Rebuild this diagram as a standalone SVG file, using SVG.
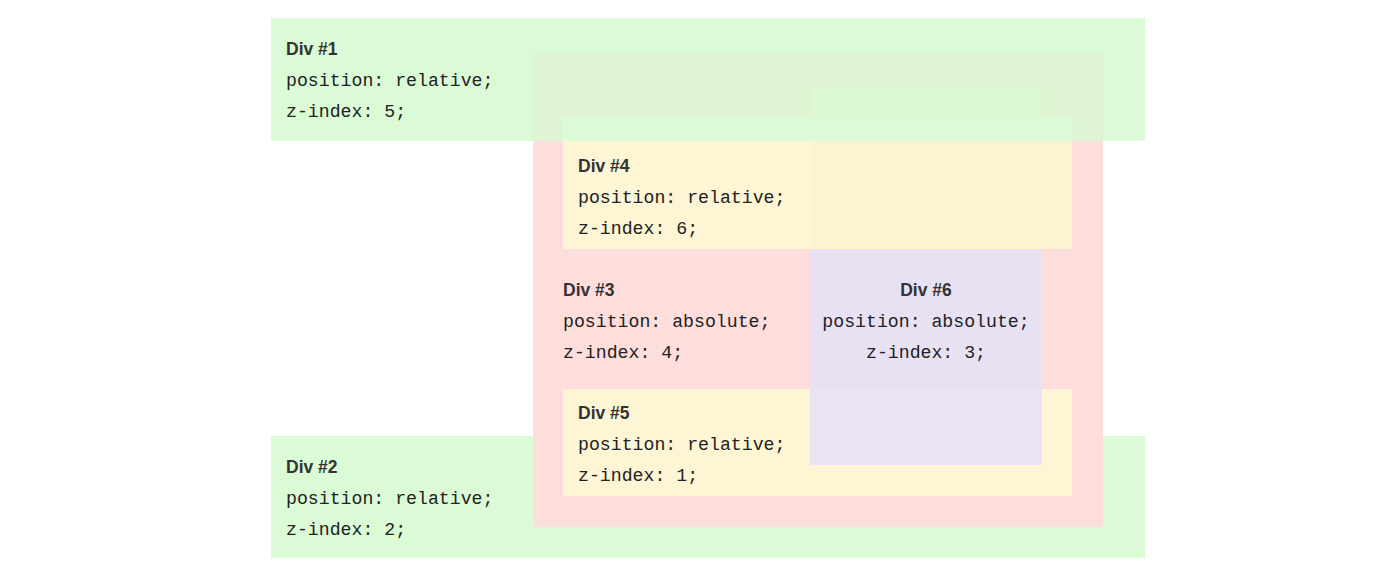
<svg xmlns="http://www.w3.org/2000/svg" width="1400" height="576" viewBox="0 0 1400 576">
<style>
.t{font-family:"Liberation Sans",Arial,sans-serif;font-weight:bold;font-size:17.5px;fill:#333}
.c{font-family:"Liberation Mono","Courier New",monospace;font-size:18.2px;fill:#222}
.green{fill:#dafbd6}
.pink{fill:#fedddd}
.yellow{fill:#fdf5d3}
.lav{fill:#e8e0f3}
</style>
<rect width="1400" height="576" fill="#ffffff"/>
<g id="div2">
<rect class="green" x="271" y="436" width="874" height="122"/>
<text class="t" x="286" y="473">Div #2</text>
<text class="c" x="286" y="504">position: relative;</text>
<text class="c" x="286" y="535">z-index: 2;</text>
</g>
<g id="div3">
<rect class="pink" x="533" y="141" width="570" height="386"/>
<text class="t" x="563" y="296">Div #3</text>
<text class="c" x="563" y="327">position: absolute;</text>
<text class="c" x="563" y="358">z-index: 4;</text>
</g>
<g id="div5">
<rect class="yellow" x="563" y="389" width="509" height="107"/>
<text class="t" x="578" y="419">Div #5</text>
<text class="c" x="578" y="450">position: relative;</text>
<text class="c" x="578" y="481">z-index: 1;</text>
</g>
<g id="div6">
<rect class="lav" x="810" y="250" width="232" height="215"/>
<rect x="810" y="389" width="232" height="76" fill="#ffffff" opacity="0.1"/>
<text class="t" x="926" y="296" text-anchor="middle">Div #6</text>
<text class="c" x="926" y="327" text-anchor="middle">position: absolute;</text>
<text class="c" x="926" y="358" text-anchor="middle">z-index: 3;</text>
</g>
<g id="div4">
<rect class="yellow" x="563" y="141" width="509" height="108"/>
<rect x="812" y="141" width="260" height="108" fill="#fbefd4" opacity="0.4"/>
<text class="t" x="578" y="172">Div #4</text>
<text class="c" x="578" y="203">position: relative;</text>
<text class="c" x="578" y="234">z-index: 6;</text>
</g>
<g id="div1">
<rect class="green" x="271" y="18" width="874" height="123"/>
<rect x="533" y="54" width="570" height="87" fill="#e3eed2" opacity="0.55"/>
<rect x="562" y="117" width="511" height="24" fill="#dafbd6" opacity="0.85"/>
<rect x="811" y="88" width="230" height="30" fill="#dafbd6" opacity="0.6"/>
<text class="t" x="286" y="55">Div #1</text>
<text class="c" x="286" y="86">position: relative;</text>
<text class="c" x="286" y="117">z-index: 5;</text>
</g>
<g id="connectors"/>
</svg>
